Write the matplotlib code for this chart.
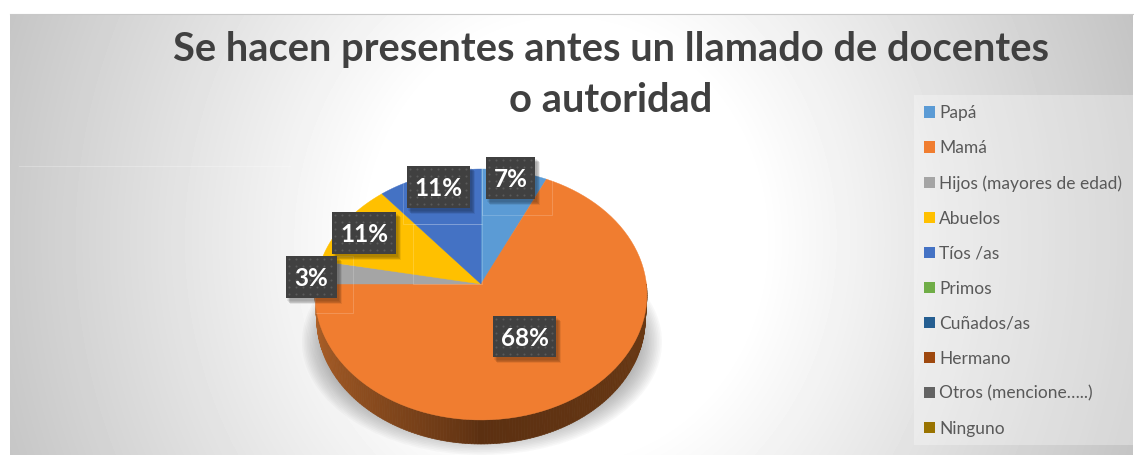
#!/usr/bin/env python

import numpy as np
import matplotlib
matplotlib.use('Agg')
import matplotlib.pyplot as plt
from matplotlib.patches import Patch, Rectangle, Ellipse, Polygon
from matplotlib.collections import PolyCollection

plt.rcParams['font.family'] = ['Lato', 'DejaVu Sans']

W, H = 1134, 455

TITLE = 'Se hacen presentes antes un llamado de docentes\no autoridad'
categories = ['Papá', 'Mamá', 'Hijos (mayores de edad)', 'Abuelos', 'Tíos /as',
              'Primos', 'Cuñados/as', 'Hermano', 'Otros (mencione…..)', 'Ninguno']
values = [7, 68, 3, 11, 11, 0, 0, 0, 0, 0]
colors = ['#5B9BD5', '#F07D30', '#A5A5A5', '#FFC000', '#4472C4',
          '#70AD47', '#255E91', '#9E480E', '#636363', '#997300']

# label boxes in pixels: left, top, width, height, keyed by slice index
BOXES = {0: (486, 157, 49, 42), 1: (493, 316, 63, 41), 2: (286, 256, 51, 42),
         3: (332, 212, 64, 42), 4: (407, 166, 63, 42)}
# faint outlines left over around the labels
GHOSTS = [(482, 155, 70, 60), (403, 166, 79, 58), (413, 224, 69, 60), (315, 256, 38, 57)]

CX, CY = 481, 284
A, B, K = 165.4, 124.6, 0.0837
DEPTH = 24


def rim(theta, scale=1.0, drop=0.0):
    # theta is clockwise from the top, tilted circle seen in perspective
    x, y = np.sin(theta), np.cos(theta)
    d = 1 + K * y
    return CX + scale * A * x / d, CY - B * y / d + drop


def background():
    # white disc off centre, grey falling away towards the edges
    yy, xx = np.mgrid[0:H, 0:W]
    r = np.hypot((xx - 565) / 245, (yy - 240) / 270)
    img = 1 - 0.14 * np.clip(r - 0.8, 0, None)
    img[:14, :] = 1
    img[:, :10] = 1
    img[:, 1133:] = 1
    return img


fig = plt.figure(figsize=(W / 100, H / 100), dpi=100)
ax = fig.add_axes([0, 0, 1, 1])
ax.set_xlim(0, W)
ax.set_ylim(H, 0)
ax.axis('off')

ax.imshow(background(), cmap='gray', vmin=0, vmax=1, extent=(0, W, H, 0), aspect='auto', zorder=0)

# thin rule along the top of the chart area and the seam on the left
ax.plot([10, 1133], [14, 14], color='#c8c8c8', lw=0.8, zorder=1)
ax.plot([19, 290], [166, 166], color='white', lw=0.6, alpha=0.3, zorder=1)

# soft shadow under the pie
for i in range(14):
    ax.add_patch(Ellipse((482, 342), 2 * (180 - i * 1.6), 2 * (113 - i * 1.6),
                         fc='#707070', ec='none', alpha=0.045, zorder=2))

# side wall, light on the left and dark below
angles = np.linspace(np.pi * 0.5, np.pi * 1.5, 181)
strips, strip_colors = [], []
light = np.array(matplotlib.colors.to_rgb('#B5652A'))
dark = np.array(matplotlib.colors.to_rgb('#5C3011'))
right = np.array(matplotlib.colors.to_rgb('#6B3A14'))
for a0, a1 in zip(angles[:-1], angles[1:]):
    x0, y0 = rim(a0)
    x1, y1 = rim(a1)
    x2, y2 = rim(a1, 0.99, DEPTH)
    x3, y3 = rim(a0, 0.99, DEPTH)
    strips.append([(x0, y0), (x1, y1), (x2, y2), (x3, y3)])
    if a0 > np.pi:
        mix = ((a0 - np.pi) / (np.pi * 0.5)) ** 0.8
        strip_colors.append(dark + (light - dark) * mix)
    else:
        strip_colors.append(dark + (right - dark) * (np.pi - a0) / (np.pi * 0.5))
ax.add_collection(PolyCollection(strips, facecolors=strip_colors, edgecolors=strip_colors, lw=0.5, zorder=3))

# top face, slices come from the values
fractions = np.cumsum([0] + values) / sum(values)
for i, v in enumerate(values):
    if v == 0:
        continue
    th = np.linspace(fractions[i], fractions[i + 1], 90) * 2 * np.pi
    x, y = rim(th)
    pts = np.column_stack([np.r_[CX, x], np.r_[CY, y]])
    ax.add_patch(Polygon(pts, closed=True, fc=colors[i], ec=colors[i], lw=0.3, zorder=4))

for g in GHOSTS:
    ax.add_patch(Rectangle(g[:2], g[2], g[3], fc='none', ec='white', lw=0.5, alpha=0.25, zorder=5))

# data labels
for i, (l, t, w, h) in BOXES.items():
    for s in range(5):
        ax.add_patch(Rectangle((l + 1 + s * 0.8, t + 2 + s * 0.8), w + 1, h + 1, fc='black', ec='none',
                               alpha=0.07, zorder=5))
    ax.add_patch(Rectangle((l, t), w, h, fc='#404040', ec='none', zorder=6))
    gx, gy = np.meshgrid(np.arange(l + 3, l + w, 7), np.arange(t + 3, t + h, 7))
    ax.scatter(gx.ravel(), gy.ravel(), s=2.2, color='#5a5a5a', linewidths=0, zorder=7)
    ax.text(l + w / 2, t + h / 2 + 1.5, '%d%%' % values[i], color='white', fontsize=17.5, fontweight='bold',
            ha='center', va='center', zorder=8)

ax.text(611, 75, TITLE, color='#404040', fontsize=28.7, fontweight='bold', ha='center', va='center',
        linespacing=1.5, zorder=8)

# legend
ax.add_patch(Rectangle((914, 95), 219, 350, fc='white', ec='none', alpha=0.3, zorder=1))
handles = [Patch(fc=c, ec='none', label=n) for c, n in zip(colors, categories)]
leg = ax.legend(handles=handles, loc='upper left', bbox_to_anchor=(924 / W, 1 - 105 / H),
                bbox_transform=fig.transFigure, frameon=False, fontsize=12.5, labelcolor='#595959',
                ncol=1, borderpad=0, borderaxespad=0, handlelength=0.63, handleheight=0.63,
                handletextpad=0.23, labelspacing=1.095)
leg.set_zorder(9)

fig.savefig('out.png', dpi=100)
plt.close(fig)
